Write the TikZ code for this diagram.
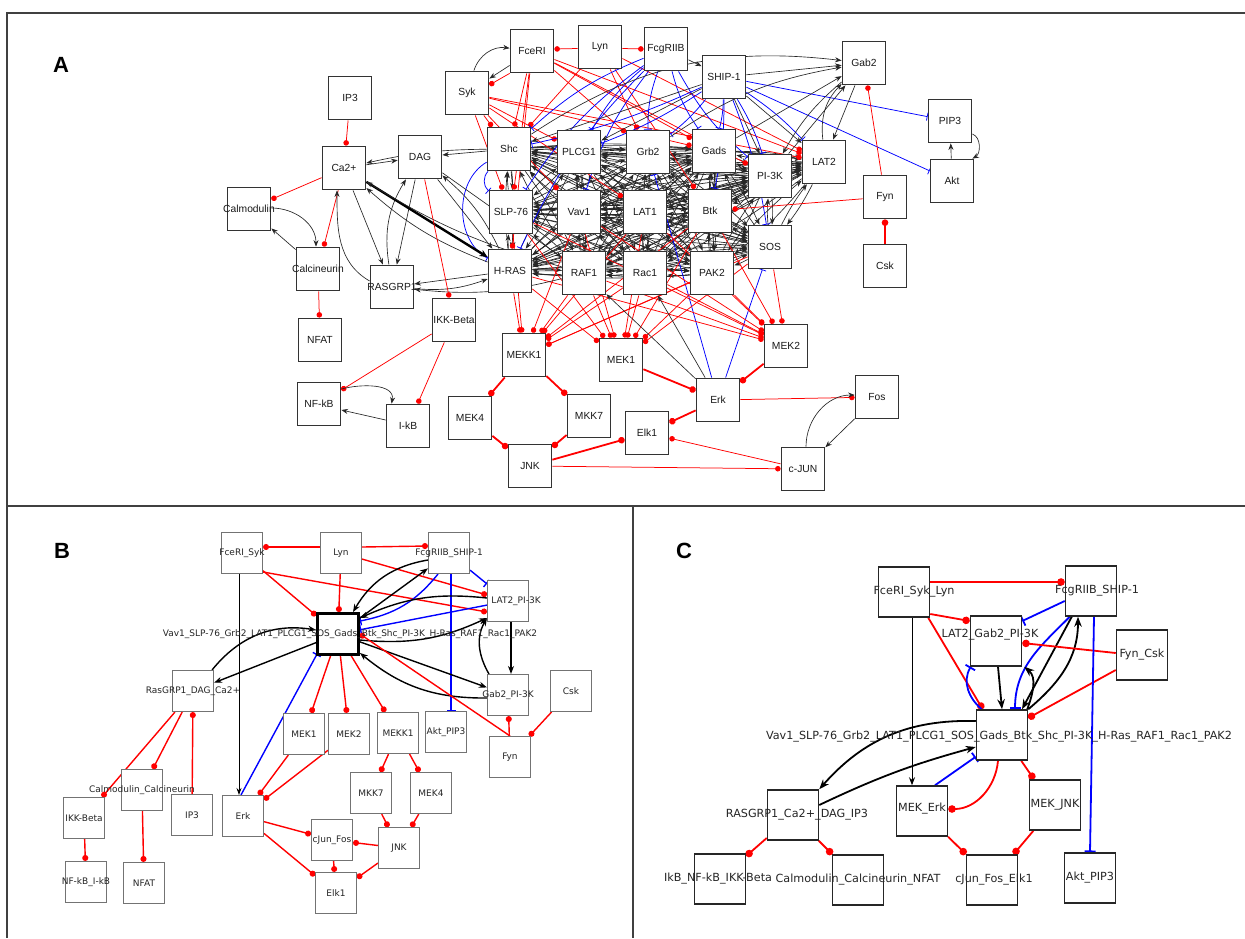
\documentclass[tikz,border=0pt]{standalone}
\usepackage{fontspec}
\setmainfont{Liberation Sans}
\newfontfamily\dvs{DejaVu Sans}
\usetikzlibrary{arrows.meta}
\pgfdeclarelayer{edges}
\pgfdeclarelayer{bg}
\pgfsetlayers{bg,edges,main}
\tikzset{
  nA/.style={draw=black!80, line width=1.8pt, fill=white, minimum width=43pt, minimum height=43pt, inner sep=0pt},
  tA/.style={font=\fontsize{10.3}{12}\selectfont, text=black!90, inner sep=0pt},
  nB/.style={draw=black!55, line width=1.1pt, fill=white, minimum width=41pt, minimum height=41pt, inner sep=0pt},
  tB/.style={font=\dvs\fontsize{9}{10}\selectfont, text=black!85, inner sep=0pt},
  nC/.style={draw=black!85, line width=1.5pt, fill=white, minimum width=51pt, minimum height=50pt, inner sep=0pt},
  tC/.style={font=\dvs\fontsize{11.2}{13}\selectfont, text=black!85, inner sep=0pt},
  panel/.style={font=\fontsize{22}{24}\selectfont\bfseries},
  frame/.style={draw=black!75, line width=1.8pt},
  actA/.style={draw=black!85, line width=0.65pt, -{Stealth[length=6.5pt,width=5pt]}},
  actAk/.style={draw=black, line width=2.4pt, -{Stealth[length=8pt,width=7pt]}},
  inhA/.style={draw=red, line width=0.75pt, -{Circle[length=5.5pt]}},
  inhAk/.style={draw=red, line width=1.8pt, -{Circle[length=6.5pt]}},
  blkA/.style={draw=blue, line width=0.75pt, -{Bar[width=8pt]}},
  actB/.style={draw=black, line width=1.4pt, -{Stealth[length=8pt,width=6pt]}},
  actBt/.style={draw=black, line width=0.9pt, -{Stealth[length=7pt,width=5pt]}},
  inhB/.style={draw=red, line width=1.4pt, -{Circle[length=6pt]}},
  blkB/.style={draw=blue, line width=1.4pt, -{Bar[width=9pt]}},
  actC/.style={draw=black, line width=1.8pt, -{Stealth[length=10pt,width=7.5pt]}},
  actCt/.style={draw=black, line width=1pt, -{Stealth[length=8pt,width=6pt]}},
  inhC/.style={draw=red, line width=1.8pt, -{Circle[length=7.5pt]}},
  blkC/.style={draw=blue, line width=1.8pt, -{Bar[width=11pt]}},
}
\begin{document}
\begin{tikzpicture}[x=1pt,y=-1pt]
\useasboundingbox (0,0) rectangle (1245,938);
\begin{pgfonlayer}{bg}
\fill[white] (0,0) rectangle (1245,938);
\end{pgfonlayer}
% frame
\draw[frame] (1245,13) -- (7,13) -- (7,938);
\draw[frame] (7,506) -- (1245,506);
\draw[frame] (633,506) -- (633,938);
\node[panel] (labA) at (61,65) {A};
\node[panel] (labB) at (62,551) {B};
\node[panel] (labC) at (684,551) {C};

% ================= Panel A nodes
\node[nA,label={[tA]center:IP3}] (IP3) at (350,98) {};
\node[nA,label={[tA]center:Ca2+}] (Ca) at (344,168) {};
\node[nA,label={[tA]center:DAG}] (DAG) at (420,157) {};
\node[nA,label={[tA]center:Calmodulin}] (Calm) at (249,209) {};
\node[nA,label={[tA]center:Calcineurin}] (Calc) at (318,269) {};
\node[nA,label={[tA]center:RASGRP1}] (RASGRP) at (392,287) {};
\node[nA,label={[tA]center:NFAT}] (NFAT) at (320,340) {};
\node[nA,label={[tA]center:IKK-Beta}] (IKK) at (454,320) {};
\node[nA,label={[tA]center:NF-kB}] (NFkB) at (319,404) {};
\node[nA,label={[tA]center:I-kB}] (IkB) at (408,426) {};
\node[nA,label={[tA]center:MEKK1}] (MEKKa) at (524,355) {};
\node[nA,label={[tA]center:MEK1}] (MEK1a) at (621,360) {};
\node[nA,label={[tA]center:MEK4}] (MEK4a) at (470,418) {};
\node[nA,label={[tA]center:MKK7}] (MKK7a) at (589,416) {};
\node[nA,label={[tA]center:JNK}] (JNKa) at (530,466) {};
\node[nA,label={[tA]center:Elk1}] (Elk1a) at (647,433) {};
\node[nA,label={[tA]center:Erk}] (Erka) at (718,400) {};
\node[nA,label={[tA]center:MEK2}] (MEK2a) at (786,346) {};
\node[nA,label={[tA]center:Fos}] (Fosa) at (877,397) {};
\node[nA,label={[tA]center:c-JUN}] (cJUN) at (803,469) {};
\node[nA,label={[tA]center:FceRI}] (FceRI) at (532,51) {};
\node[nA,label={[tA]center:Lyn}] (Lyn) at (600,47) {};
\node[nA,label={[tA]center:FcgRIIB}] (FcgRIIB) at (666,49) {};
\node[nA,label={[tA]center:SHIP-1}] (SHIP) at (724,77) {};
\node[nA,label={[tA]center:Syk}] (Syk) at (467,93) {};
\node[nA,label={[tA]center:Shc}] (Shc) at (509,149) {};
\node[nA,label={[tA]center:PLCG1}] (PLCG) at (579,152) {};
\node[nA,label={[tA]center:Grb2}] (Grb2) at (648,152) {};
\node[nA,label={[tA]center:Gads}] (Gads) at (714,151) {};
\node[nA,label={[tA]center:PI-3K}] (PI3K) at (770,176) {};
\node[nA,label={[tA]center:LAT2}] (LAT2) at (824,162) {};
\node[nA,label={[tA]center:SLP-76}] (SLP) at (511,212) {};
\node[nA,label={[tA]center:Vav1}] (Vav) at (579,212) {};
\node[nA,label={[tA]center:LAT1}] (LAT1) at (645,212) {};
\node[nA,label={[tA]center:Btk}] (Btk) at (710,211) {};
\node[nA,label={[tA]center:SOS}] (SOS) at (770,247) {};
\node[nA,label={[tA]center:H-RAS}] (HRAS) at (510,271) {};
\node[nA,label={[tA]center:RAF1}] (RAF) at (584,273) {};
\node[nA,label={[tA]center:Rac1}] (Rac) at (645,273) {};
\node[nA,label={[tA]center:PAK2}] (PAK) at (712,273) {};
\node[nA,label={[tA]center:Gab2}] (Gab2) at (864,63) {};
\node[nA,label={[tA]center:PIP3}] (PIP3) at (950,121) {};
\node[nA,label={[tA]center:Akt}] (Akt) at (952,181) {};
\node[nA,label={[tA]center:Fyn}] (Fyn) at (885,197) {};
\node[nA,label={[tA]center:Csk}] (Csk) at (885,266) {};

% ================= Panel B nodes
\node[nB,label={[tB]center:FceRI\_Syk}] (FSyk) at (242,553) {};
\node[nB,label={[tB]center:Lyn}] (LynB) at (341,553) {};
\node[nB,label={[tB]center:FcgRIIB\_SHIP-1}] (FSHIP) at (449,553) {};
\node[nB,label={[tB,xshift=8pt]center:LAT2\_PI-3K}] (LAT2B) at (508,601) {};
\node[nB,draw=black,line width=2.8pt,label={[tB,xshift=12pt]center:Vav1\_SLP-76\_Grb2\_LAT1\_PLCG1\_SOS\_Gads\_Btk\_Shc\_PI-3K\_H-Ras\_RAF1\_Rac1\_PAK2}] (CenB) at (338,634) {};
\node[nB,label={[tB]center:Gab2\_PI-3K}] (Gab2B) at (508,695) {};
\node[nB,label={[tB]center:Csk}] (CskB) at (571,691) {};
\node[nB,label={[tB]center:Fyn}] (FynB) at (510,757) {};
\node[nB,label={[tB]center:Akt\_PIP3}] (AktB) at (446,732) {};
\node[nB,label={[tB]center:MEKK1}] (MEKK1B) at (398,733) {};
\node[nB,label={[tB]center:MEK2}] (MEK2B) at (349,734) {};
\node[nB,label={[tB]center:MEK1}] (MEK1B) at (304,734) {};
\node[nB,label={[tB]center:MKK7}] (MKK7B) at (371,793) {};
\node[nB,label={[tB]center:MEK4}] (MEK4B) at (431,793) {};
\node[nB,label={[tB]center:JNK}] (JNKB) at (399,848) {};
\node[nB,label={[tB]center:cJun\_Fos}] (cJunB) at (332,840) {};
\node[nB,label={[tB]center:Elk1}] (Elk1B) at (336,893) {};
\node[nB,label={[tB]center:RasGRP1\_DAG\_Ca2+}] (RasB) at (193,691) {};
\node[nB,label={[tB]center:Calmodulin\_Calcineurin}] (CalmB) at (142,790) {};
\node[nB,label={[tB]center:IP3}] (IP3B) at (192,815) {};
\node[nB,label={[tB]center:Erk}] (ErkB) at (243,816) {};
\node[nB,label={[tB]center:IKK-Beta}] (IKKB) at (84,818) {};
\node[nB,label={[tB]center:NF-kB\_I-kB}] (NFkBB) at (86,882) {};
\node[nB,label={[tB]center:NFAT}] (NFATB) at (144,883) {};

% ================= Panel C nodes
\node[nC,label={[tC,xshift=10pt]center:FceRI\_Syk\_Lyn}] (FSL) at (904,592) {};
\node[nC,label={[tC,xshift=6pt]center:FcgRIIB\_SHIP-1}] (FSHIPC) at (1091,591) {};
\node[nC,label={[tC,xshift=-6pt,yshift=6pt]center:LAT2\_Gab2\_PI-3K}] (LATC) at (996,641) {};
\node[nC,label={[tC]center:Fyn\_Csk}] (FynC) at (1142,655) {};
\node[nC,label={[tC,xshift=-3pt,yshift=-2pt]center:Vav1\_SLP-76\_Grb2\_LAT1\_PLCG1\_SOS\_Gads\_Btk\_Shc\_PI-3K\_H-Ras\_RAF1\_Rac1\_PAK2}] (CenC) at (1002,735) {};
\node[nC,label={[tC,xshift=4pt]center:RASGRP1\_Ca2+\_DAG\_IP3}] (RasC) at (793,815) {};
\node[nC,label={[tC,yshift=2pt]center:MEK\_Erk}] (MEKErk) at (922,811) {};
\node[nC,label={[tC]center:MEK\_JNK}] (MEKJNK) at (1055,805) {};
\node[nC,label={[tC,xshift=-2pt]center:IkB\_NF-kB\_IKK-Beta}] (IkbC) at (720,879) {};
\node[nC,label={[tC]center:Calmodulin\_Calcineurin\_NFAT}] (CalmC) at (858,880) {};
\node[nC,label={[tC,xshift=2pt]center:cJun\_Fos\_Elk1}] (cJunC) at (992,880) {};
\node[nC,label={[tC]center:Akt\_PIP3}] (AktC) at (1090,878) {};

\begin{pgfonlayer}{edges}
% ---------- Panel A: dense core mesh
\foreach \a [count=\i] in {Shc,PLCG,Grb2,Gads,SLP,Vav,LAT1,Btk,HRAS,RAF,Rac,PAK,SOS,PI3K,LAT2} {
  \foreach \b [count=\j] in {Shc,PLCG,Grb2,Gads,SLP,Vav,LAT1,Btk,HRAS,RAF,Rac,PAK,SOS,PI3K,LAT2} {
    \ifnum\i<\j
      \draw[actA] (\a) to[bend left=5] (\b);
      \draw[actA] (\b) to[bend left=5] (\a);
    \fi
  }
}
% upstream
\draw[actA] (Syk) to[bend left=40] (FceRI);
\draw[actA] (FceRI) -- (Syk);
\draw[inhA] (FceRI.south west) -- ([yshift=8pt]Syk.east);
\draw[inhA] ([yshift=-1.5pt]Lyn.west) -- ([yshift=2pt]FceRI.east);
\draw[inhA] ([yshift=-1.5pt]Lyn.east) -- (FcgRIIB.west);
\draw[actA] (FcgRIIB) -- (SHIP);
\foreach \t in {Shc,SLP,Gads,LAT2,PI3K,HRAS,Grb2} \draw[inhA] (FceRI) -- (\t);
\foreach \t in {Shc,SLP,PLCG,LAT1,LAT2,Gads,Vav} \draw[inhA] (Syk) -- (\t);
\foreach \t in {Grb2,LAT2,Btk,Shc} \draw[inhA] (Lyn) -- (\t);
\foreach \t in {Shc,PLCG,Grb2,Gads,SLP,HRAS,PI3K,Vav} \draw[blkA] (FcgRIIB) to[bend right=10] (\t);
\foreach \t in {Shc,PLCG,Grb2,Gads,SOS,PI3K,LAT2,Btk} \draw[blkA] (SHIP) to[bend left=6] (\t);
\draw[blkA] (SHIP) -- (PIP3);
\draw[blkA] (SHIP) -- (Akt);
\draw[blkA] (Shc) to[bend right=60] (HRAS);
\draw[blkA] (Shc) to[bend right=45] (SLP);
\draw[blkA] (Erka) -- (SOS);
\draw[blkA] (Erka) -- (Grb2);
\foreach \t in {Gab2,LAT2,PI3K,Shc,PLCG} \draw[actA] (SHIP) -- (\t);
\draw[actA] (Shc) to[bend left=20] (Gab2);
\draw[actA] (Grb2) to[bend left=12] (Gab2);
\draw[actA] (Gads) -- (Gab2);
\draw[actA] (PI3K) -- (Gab2);
\draw[actA] (LAT2) to[bend left=25] (Gab2);
\draw[actA] (Gab2) -- (LAT2);
\draw[actA] (Gab2) to[bend right=10] (PI3K);
\draw[actA] (Akt) -- (PIP3);
\draw[actA] ([yshift=-13pt]PIP3.east) to[out=-20,in=30] ([xshift=-2pt]Akt.north east);
\draw[inhA] (Fyn) -- (Btk);
\draw[inhA] (Fyn) -- (Gab2);
\draw[inhAk] (Csk) -- (Fyn);
% core to MAPK
\foreach \s in {SLP,Vav,LAT1,Btk,HRAS,RAF,Rac,PAK,SOS} {
  \draw[inhA] (\s) -- (MEKKa);
  \draw[inhA] (\s) -- (MEK1a);
  \draw[inhA] (\s) -- (MEK2a);
}
\draw[actA] (Erka) -- (Rac);
\draw[actA] (Erka) -- (RAF);
% left side
\draw[inhA] (IP3) -- (Ca);
\draw[inhA] (Ca) -- (Calm);
\draw[inhA] (Ca) -- (Calc);
\draw[inhA] (Calc) -- (NFAT);
\draw[actA] (Ca) -- (DAG);
\draw[actA] ([yshift=1pt]Calm.east) to[out=0,in=90] ([xshift=-2pt]Calc.north);
\draw[actA] (Calc) -- (Calm);
\draw[actA] (Ca) -- (RASGRP);
\draw[actA] (DAG) -- (RASGRP);
\draw[actA] (RASGRP) to[bend left=20] (DAG);
\draw[actA] ([yshift=6pt]RASGRP.west) to[out=150,in=-90] ([xshift=-7pt]Ca.south);
\draw[actAk] (Ca) -- (HRAS);
\draw[actA] (HRAS) to[bend left=10] (Ca);
\draw[actA] (RAF) to[bend left=8] (Ca);
\draw[actA] (Shc) to[bend right=6] (Ca);
\draw[actA] (DAG) -- (HRAS);
\draw[actA] (HRAS) to[bend right=12] (DAG);
\draw[actA] (DAG) -- (RAF);
\draw[actA] (Shc) -- (DAG);
\draw[actA] (HRAS) -- (RASGRP);
\draw[actA] (RASGRP) to[bend right=12] (HRAS);
\draw[actA] (RAF) to[bend left=10] (RASGRP);
\draw[inhA] (DAG) -- (IKK);
\draw[inhA] (IKK) -- (NFkB);
\draw[inhA] (IKK) -- (IkB);
\draw[actA] ([yshift=15pt]NFkB.east) to[out=15,in=80] ([xshift=6pt]IkB.north west);
\draw[actA] ([yshift=6pt]IkB.west) -- ([yshift=-6pt]NFkB.east);
% MAPK module
\draw[inhAk] (MEKKa) -- (MEK4a);
\draw[inhAk] (MEKKa) -- (MKK7a);
\draw[inhAk] (MEK4a) -- (JNKa);
\draw[inhAk] (MKK7a) -- (JNKa);
\draw[inhAk] (JNKa) -- (Elk1a);
\draw[inhA] (JNKa) -- (cJUN);
\draw[inhAk] (Erka) -- (Elk1a);
\draw[inhA] (cJUN) -- (Elk1a);
\draw[inhAk] (MEK1a) -- (Erka);
\draw[inhAk] (MEK2a) -- (Erka);
\draw[inhA] (Erka) -- (Fosa);
\draw[actA] (Fosa) -- (cJUN);
\draw[actA] ([xshift=3pt]cJUN.north) to[out=90,in=180] ([yshift=2pt]Fosa.west);

% ---------- Panel B edges
\draw[inhB] ([yshift=6pt]LynB.west) -- ([yshift=6pt]FSyk.east);
\draw[inhB] ([yshift=6pt]LynB.east) -- ([yshift=7pt]FSHIP.west);
\draw[inhB] (LynB) -- (CenB);
\draw[inhB] (LynB) -- (LAT2B);
\draw[inhB] (FSyk) -- (CenB);
\draw[inhB] ([yshift=-19pt]FSyk.east) -- ([yshift=-11pt]LAT2B.west);
\draw[actBt] ([xshift=-3pt]FSyk.south) -- ([xshift=-4pt]ErkB.north);
\draw[blkB] (FSHIP) -- (LAT2B);
\draw[blkB] ([xshift=-11pt]FSHIP.south) to[bend left=20] ([yshift=13pt]CenB.east);
\draw[blkB] (LAT2B) -- (CenB);
\draw[blkB] ([xshift=2pt]FSHIP.south) -- ([xshift=5pt]AktB.north);
\draw[actB] ([yshift=-7pt]FSHIP.west) to[bend right=25] ([xshift=15pt]CenB.north);
\draw[actB] (CenB) -- (FSHIP);
\draw[actB] ([yshift=3pt]LAT2B.west) to[bend right=15] ([yshift=16pt]CenB.east);
\draw[actB] ([yshift=-6pt]CenB.east) to[bend right=15] ([yshift=-17pt]LAT2B.west);
\draw[actB] ([xshift=3pt]LAT2B.south) -- ([xshift=3pt]Gab2B.north);
\draw[actB] ([xshift=2pt]Gab2B.north west) to[out=120,in=-120] ([yshift=4pt]LAT2B.south west);
\draw[actB] (CenB) -- (Gab2B);
\draw[actB] ([yshift=-3pt]Gab2B.west) to[bend left=20] ([yshift=3pt]CenB.south east);
\draw[inhB] (FynB) -- (Gab2B);
\draw[inhB] (CskB) -- (FynB);
\draw[inhB] (FynB.north) -- (CenB.east);
\draw[inhB] (CenB) -- (MEK1B);
\draw[inhB] (CenB) -- (MEK2B);
\draw[inhB] (CenB) -- (MEKK1B);
\draw[actB] (CenB) -- (RasB);
\draw[actB] ([xshift=-2pt]RasB.north east) to[bend left=30] ([yshift=4pt]CenB.west);
\draw[blkB] ([xshift=-2pt]ErkB.north) -- ([xshift=1pt,yshift=2pt]CenB.south west);
\draw[inhB] (RasB) -- (IKKB);
\draw[inhB] (RasB) -- (CalmB);
\draw[inhB] (IP3B) -- (RasB);
\draw[inhB] (CalmB) -- (NFATB);
\draw[inhB] (IKKB) -- (NFkBB);
\draw[inhB] (MEK1B) -- (ErkB);
\draw[inhB] (MEK2B) -- (ErkB);
\draw[inhB] (ErkB) -- (cJunB);
\draw[inhB] (ErkB) -- (Elk1B);
\draw[inhB] (MEKK1B) -- (MKK7B);
\draw[inhB] (MEKK1B) -- (MEK4B);
\draw[inhB] (MKK7B) -- (JNKB);
\draw[inhB] (MEK4B) -- (JNKB);
\draw[inhB] (JNKB) -- (cJunB);
\draw[inhB] (JNKB) -- (Elk1B);
\draw[inhB] (cJunB) -- (Elk1B);

% ---------- Panel C edges
\draw[inhC] ([yshift=10pt]FSL.east) -- ([yshift=9pt]FSHIPC.west);
\draw[inhC] ([yshift=-22pt]FSL.east) -- ([yshift=20pt]LATC.west);
\draw[inhC] ([xshift=-2pt]FSL.south east) -- ([xshift=7pt]CenC.north west);
\draw[actCt] ([xshift=8pt]FSL.south) -- ([xshift=-10pt]MEKErk.north);
\draw[blkC] ([yshift=-10pt]FSHIPC.west) -- ([yshift=20pt]LATC.east);
\draw[blkC] ([xshift=5pt]FSHIPC.south west) to[out=-135,in=90] ([xshift=13pt]CenC.north);
\draw[actC] ([xshift=7pt]FSHIPC.south west) -- ([xshift=20pt]CenC.north);
\draw[actC] (CenC.north east) to[out=40,in=-90] ([xshift=-13pt]FSHIPC.south);
\draw[actC] ([xshift=-1pt]CenC.north east) to[out=70,in=-40] ([xshift=2pt]LATC.south east);
\draw[actC] ([xshift=2pt]LATC.south) -- (CenC.north);
\draw[blkC] ([xshift=6pt]CenC.north west) to[out=140,in=-120] ([xshift=1pt]LATC.south west);
\draw[inhC] ([yshift=2pt]FynC.west) -- ([yshift=-2pt]LATC.east);
\draw[inhC] ([yshift=-15pt]FynC.west) -- ([yshift=17pt]CenC.east);
\draw[actC] ([yshift=14pt]CenC.west) to[bend right=25] (RasC.north east);
\draw[actC] ([yshift=10pt]RasC.east) to[bend left=5] ([yshift=-12pt]CenC.west);
\draw[blkC] ([xshift=13pt]MEKErk.north) -- ([yshift=4pt]CenC.south west);
\draw[inhC] ([xshift=-4pt]CenC.south) to[out=-95,in=0] ([yshift=2pt]MEKErk.east);
\draw[inhC] ([xshift=-7pt]CenC.south east) -- ([xshift=-21pt]MEKJNK.north);
\draw[inhC] (MEKErk) -- (cJunC);
\draw[inhC] (MEKJNK) -- (cJunC);
\draw[inhC] (RasC) -- (IkbC);
\draw[inhC] (RasC) -- (CalmC);
\draw[blkC] ([xshift=3pt]FSHIPC.south) -- (AktC.north);
\end{pgfonlayer}
\end{tikzpicture}
\end{document}
